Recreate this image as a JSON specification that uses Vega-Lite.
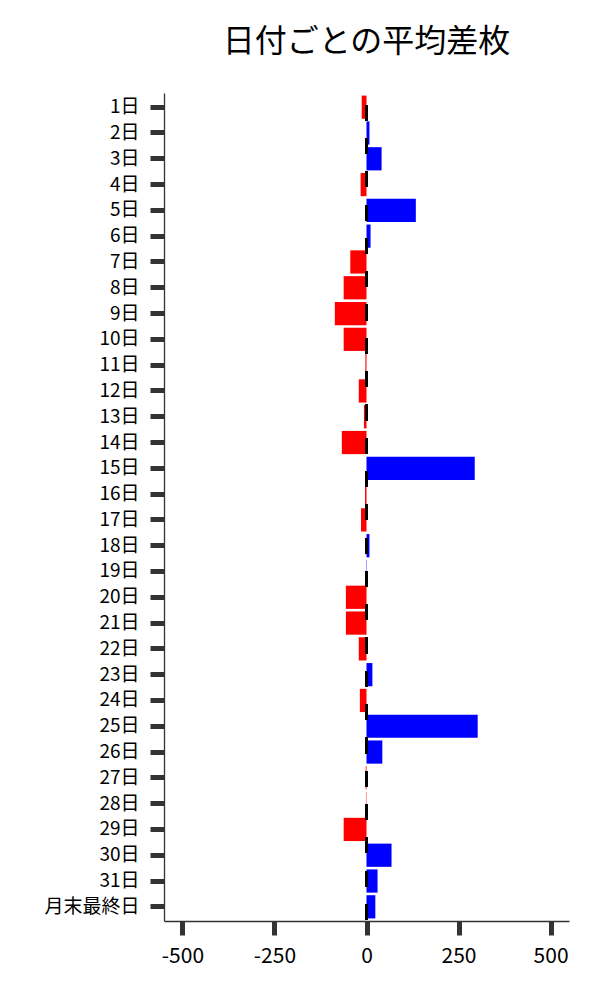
{
  "$schema": "https://vega.github.io/schema/vega-lite/v6.json",
  "width": 405,
  "height": 828,
  "autosize": {"type": "none"},
  "padding": {"left": 164, "top": 93, "right": 31, "bottom": 79},
  "background": "white",
  "title": {
    "text": "日付ごとの平均差枚",
    "font": "Noto Sans CJK JP",
    "fontSize": 32,
    "fontWeight": "normal",
    "color": "#000000",
    "anchor": "middle",
    "offset": 33
  },
  "config": {"view": {"stroke": null}},
  "data": {
    "values": [
      {"day": "1日", "value": -13},
      {"day": "2日", "value": 8},
      {"day": "3日", "value": 41},
      {"day": "4日", "value": -16},
      {"day": "5日", "value": 134},
      {"day": "6日", "value": 11},
      {"day": "7日", "value": -44},
      {"day": "8日", "value": -62},
      {"day": "9日", "value": -86},
      {"day": "10日", "value": -62},
      {"day": "11日", "value": -3},
      {"day": "12日", "value": -21},
      {"day": "13日", "value": -7},
      {"day": "14日", "value": -67},
      {"day": "15日", "value": 294},
      {"day": "16日", "value": -4},
      {"day": "17日", "value": -15},
      {"day": "18日", "value": 8},
      {"day": "19日", "value": 1},
      {"day": "20日", "value": -56},
      {"day": "21日", "value": -56},
      {"day": "22日", "value": -21},
      {"day": "23日", "value": 16},
      {"day": "24日", "value": -18},
      {"day": "25日", "value": 302},
      {"day": "26日", "value": 43},
      {"day": "27日", "value": -2},
      {"day": "28日", "value": -1},
      {"day": "29日", "value": -62},
      {"day": "30日", "value": 68},
      {"day": "31日", "value": 30},
      {"day": "月末最終日", "value": 24}
    ]
  },
  "layer": [
    {
      "mark": {"type": "bar"},
      "encoding": {
        "y": {
          "field": "day",
          "type": "nominal",
          "sort": null,
          "scale": {"paddingInner": 0.1, "paddingOuter": 0.1},
          "axis": {
            "title": null,
            "labelFont": "Noto Sans CJK JP",
            "labelFontSize": 19,
            "labelColor": "#000000",
            "labelPadding": 11,
            "tickSize": 14,
            "tickWidth": 5,
            "tickColor": "#333333",
            "domainColor": "#333333",
            "domainWidth": 1.3,
            "grid": false
          }
        },
        "x": {
          "field": "value",
          "type": "quantitative",
          "scale": {"domain": [-550, 550], "nice": false, "zero": false},
          "axis": {
            "title": null,
            "values": [-500, -250, 0, 250, 500],
            "labelExpr": "toString(datum.value)",
            "labelFont": "Noto Sans CJK JP",
            "labelFontSize": 21,
            "labelColor": "#000000",
            "labelPadding": 10,
            "tickSize": 14,
            "tickWidth": 5,
            "tickColor": "#333333",
            "domainColor": "#333333",
            "domainWidth": 1.3,
            "grid": false
          }
        },
        "color": {
          "condition": {"test": "datum.value < 0", "value": "#ff0000"},
          "value": "#0000ff"
        }
      }
    },
    {
      "mark": {
        "type": "rule",
        "color": "#000000",
        "strokeWidth": 2,
        "strokeDash": [15.5, 17.8],
        "strokeDashOffset": 21.3
      },
      "encoding": {"x": {"datum": 0}}
    }
  ]
}
